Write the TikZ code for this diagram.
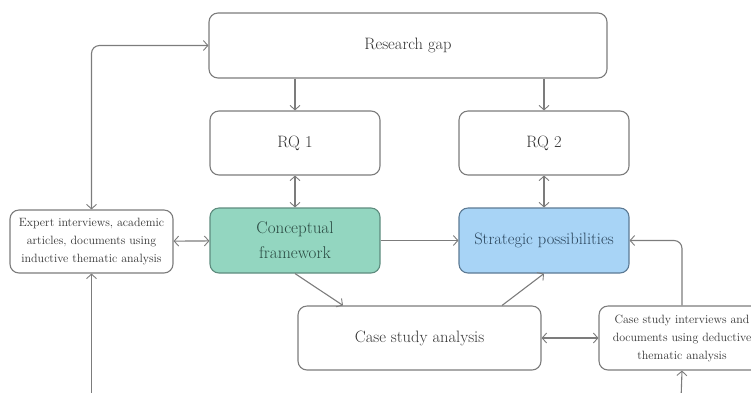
\documentclass[tikz,border=0pt]{standalone}
\usetikzlibrary{arrows.meta,calc}
\definecolor{edge}{HTML}{7C7C7C}
\definecolor{txt}{HTML}{333333}
\definecolor{cffill}{HTML}{93D6C0}
\definecolor{cfedge}{HTML}{5E8C7E}
\definecolor{cftxt}{HTML}{2A4A42}
\definecolor{spfill}{HTML}{A8D4F6}
\definecolor{spedge}{HTML}{5C7A94}
\definecolor{sptxt}{HTML}{2A455C}
\begin{document}
\begin{tikzpicture}[x=1pt,y=-1pt,
  box/.style={draw=edge,line width=1.1pt,rounded corners=9pt,fill=white,text=txt,align=center,inner sep=0pt,font=\fontsize{16.5}{20}\selectfont},
  small/.style={box,font=\fontsize{12}{18}\selectfont},
  tipx/.tip={Straight Barb[length=4.5pt,width=10pt,line width=0.9pt]},
  conn/.style={draw=edge,line width=1.1pt,-tipx},
  both/.style={draw=edge,line width=1.1pt,tipx-tipx}]
\useasboundingbox (0,0) rectangle (751,392);
\clip (0,0) rectangle (751,392);

\node[box,minimum width=398pt,minimum height=65pt] (rg) at (408,45.5) {Research gap};
\node[box,minimum width=170pt,minimum height=64pt] (rq1) at (295,143) {RQ 1};
\node[box,minimum width=170pt,minimum height=64pt] (rq2) at (544,143) {RQ 2};
\node[box,minimum width=170pt,minimum height=65pt,fill=cffill,draw=cfedge,text=cftxt,font=\fontsize{17}{25}\selectfont] (cf) at (295,240.5) {Conceptual\\framework};
\node[box,minimum width=170pt,minimum height=65pt,fill=spfill,draw=spedge,text=sptxt] (sp) at (544,240.5) {Strategic possibilities};
\node[box,minimum width=243pt,minimum height=64pt] (csa) at (419.5,338) {Case study analysis};
\node[small,minimum width=163pt,minimum height=63pt] (ex) at (91.5,241.5) {Expert interviews, academic\\articles, documents using\\inductive thematic analysis};
\node[small,minimum width=166pt,minimum height=64pt] (ci) at (682,338) {Case study interviews and\\documents using deductive\\thematic analysis};

\coordinate (bl) at (91.5,400);
\coordinate (br) at (681,400);

\draw[conn] (rg.south -| rq1.north) -- (rq1.north);
\draw[conn] (rg.south -| rq2.north) -- (rq2.north);
\draw[both] (rq1) -- (cf);
\draw[both] (rq2) -- (sp);
\draw[both] (ex) -- (cf);
\draw[conn] (cf) -- (sp);
\draw[conn] (cf.south) -- ($(csa.north)+(-76.5,0)$);
\draw[conn] ($(csa.north)+(82.5,0)$) -- (sp.south);
\draw[both] (csa) -- (ci);
\draw[both,rounded corners=8pt] (ex.north) |- (rg.west);
\draw[conn,rounded corners=8pt] (ci.north) |- (sp.east);
\draw[conn] (bl) -- (ex.south);
\draw[conn] (br) -- (ci.south);
\end{tikzpicture}
\end{document}
